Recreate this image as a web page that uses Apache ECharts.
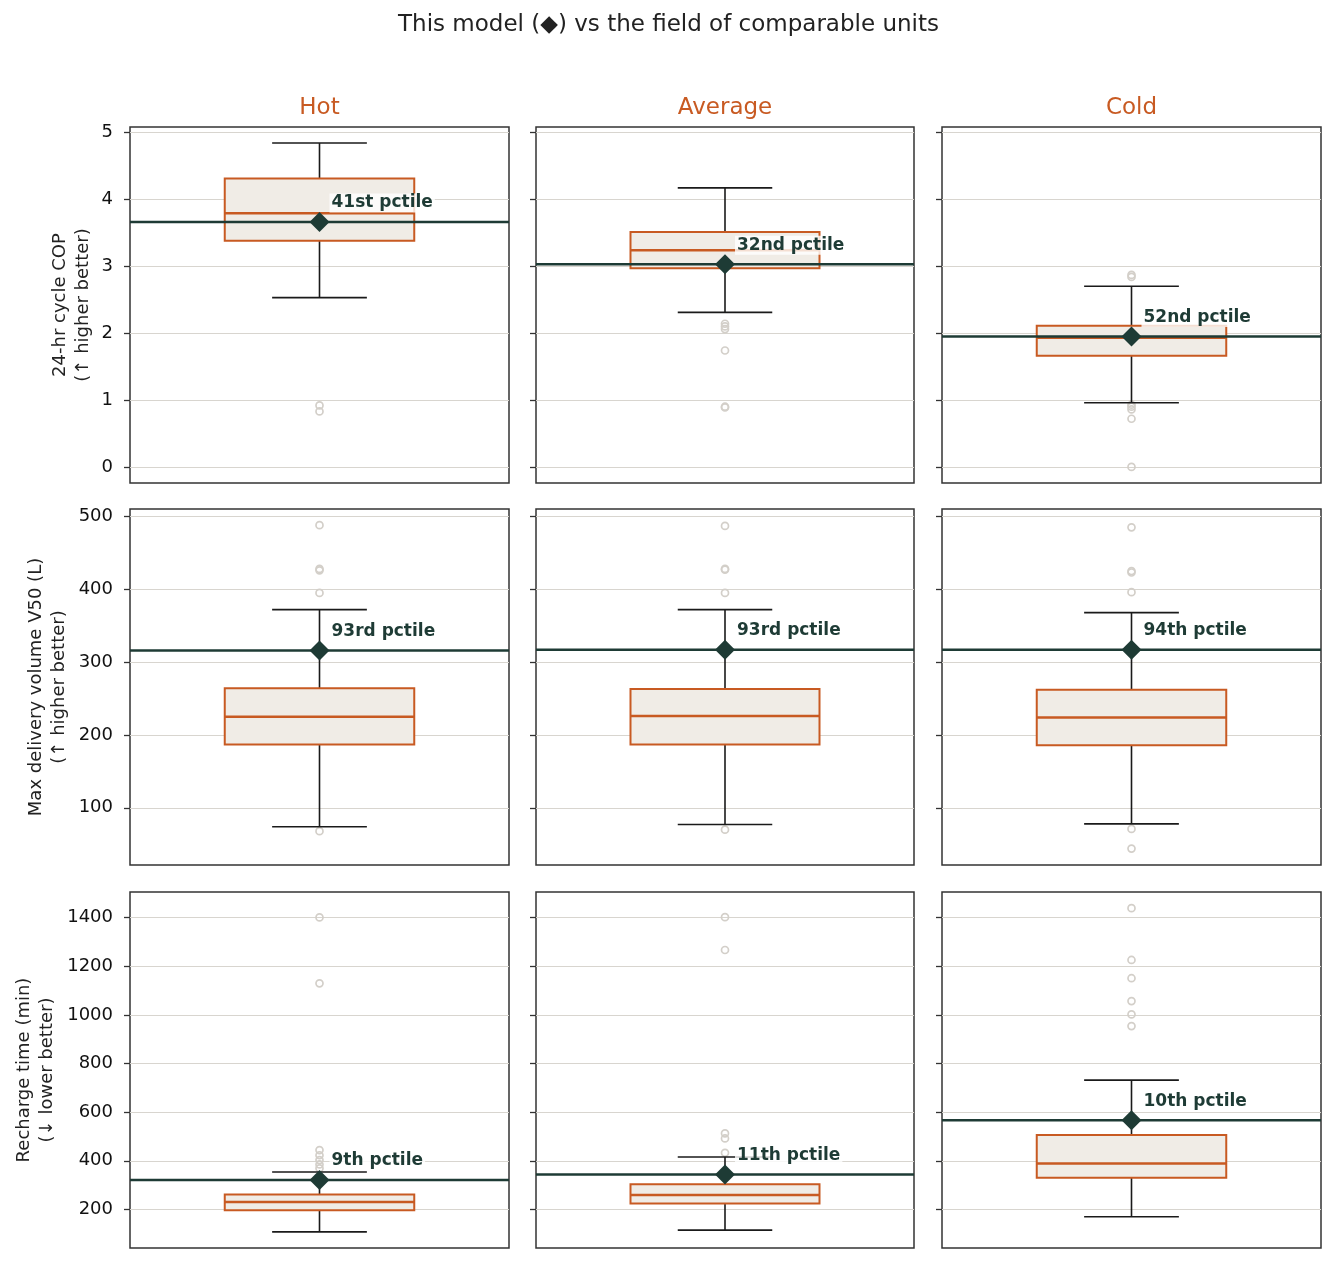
<!DOCTYPE html>
<html>
<head>
<meta charset="utf-8">
<title>This model vs the field of comparable units</title>
<script src="https://cdn.jsdelivr.net/npm/echarts@6/dist/echarts.min.js"></script>
<style>
html, body { margin: 0; padding: 0; background: #fff; }
#chart { width: 1337px; height: 1263px; }
</style>
</head>
<body>
<div id="chart"></div>
<script>
// columns = climate zones, rows = metrics
var climates = ['Hot', 'Average', 'Cold'];
var rowNames = [
	'24-hr cycle COP\n(↑ higher better)',
	'Max delivery volume V50 (L)\n(↑ higher better)',
	'Recharge time (min)\n(↓ lower better)'
];

// box stats: [lower whisker, Q1, median, Q3, upper whisker]
var copBoxes = [[2.53, 3.38, 3.79, 4.31, 4.84], [2.31, 2.97, 3.24, 3.51, 4.17], [0.96, 1.66, 1.93, 2.11, 2.70]];
var copOutliers = [[0.92, 0.83], [2.14, 2.10, 2.06, 1.74, 0.90, 0.89], [2.87, 2.84, 0.93, 0.90, 0.86, 0.72, 0]];
var copModel = [3.66, 3.03, 1.95];
var copPctile = ['41st', '32nd', '52nd'];
var copTicks = [0, 1, 2, 3, 4, 5];

var v50Boxes = [[74, 187, 225, 264, 372], [77, 187, 226, 263, 372], [78, 186, 224, 262, 368]];
var v50Outliers = [[488, 428, 426, 395, 68], [487, 428, 427, 395, 70], [485, 425, 423, 396, 71, 44]];
var v50Model = [316, 317, 317];
var v50Pctile = ['93rd', '93rd', '94th'];
var v50Ticks = [100, 200, 300, 400, 500];

var rechargeBoxes = [[108, 197, 231, 262, 354], [115, 225, 259, 304, 416], [170, 330, 389, 506, 732]];
var rechargeOutliers = [[1401, 1130, 444, 423, 403, 385, 369], [1402, 1267, 513, 492, 433], [1439, 1226, 1151, 1057, 1002, 954]];
var rechargeModel = [321, 344, 567];
var rechargePctile = ['9th', '11th', '10th'];
var rechargeTicks = [200, 400, 600, 800, 1000, 1200, 1400];

// y axis extents per row (data range + 5% padding)
var rowMin = [-0.24, 21.5, 41.5];
var rowMax = [5.08, 510.2, 1505.5];
var rowSplit = [5, 5, 7];

var boxes = [copBoxes, v50Boxes, rechargeBoxes];
var outliers = [copOutliers, v50Outliers, rechargeOutliers];
var models = [copModel, v50Model, rechargeModel];
var pctiles = [copPctile, v50Pctile, rechargePctile];
var ticks = [copTicks, v50Ticks, rechargeTicks];

var colLeft = [130, 536, 942];
var colWidth = [379, 378, 379];
var rowTop = [127, 509, 892];
var rowHeight = 356;
var nameGaps = [35, 59, 71];

var ORANGE = '#c85a22';
var DARK = '#1e3b35';
var FONT = 'DejaVu Sans';

function renderBox(params, api) {
	var lo = api.value(1), q1 = api.value(2), med = api.value(3), q3 = api.value(4), hi = api.value(5), model = api.value(6);
	var pL = api.coord([0.25, q3]);
	var pR = api.coord([0.75, q1]);
	var pM = api.coord([0.5, med]);
	var capL = api.coord([0.375, hi])[0];
	var capR = api.coord([0.625, hi])[0];
	var yHi = api.coord([0.5, hi])[1];
	var yLo = api.coord([0.5, lo])[1];
	var mL = api.coord([0, model]);
	var mR = api.coord([1, model]);
	var wh = { stroke: '#1a1a1a', lineWidth: 1.6 };
	return {
		type: 'group',
		children: [
			{ type: 'line', shape: { x1: pM[0], y1: pL[1], x2: pM[0], y2: yHi }, style: wh },
			{ type: 'line', shape: { x1: pM[0], y1: pR[1], x2: pM[0], y2: yLo }, style: wh },
			{ type: 'line', shape: { x1: capL, y1: yHi, x2: capR, y2: yHi }, style: wh },
			{ type: 'line', shape: { x1: capL, y1: yLo, x2: capR, y2: yLo }, style: wh },
			{ type: 'rect', shape: { x: pL[0], y: pL[1], width: pR[0] - pL[0], height: pR[1] - pL[1] },
				style: { fill: '#f0ece6', stroke: ORANGE, lineWidth: 2 } },
			{ type: 'line', shape: { x1: pL[0], y1: pM[1], x2: pR[0], y2: pM[1] }, style: { stroke: ORANGE, lineWidth: 2.5 } },
			{ type: 'line', shape: { x1: mL[0], y1: mL[1], x2: mR[0], y2: mR[1] }, style: { stroke: DARK, lineWidth: 2.5 } }
		]
	};
}

var grids = [], xAxes = [], yAxes = [], series = [];
var titles = [{
	text: 'This model (◆) vs the field of comparable units',
	left: 'center',
	top: 14,
	padding: 0,
	textStyle: { fontFamily: FONT, fontSize: 23, fontWeight: 'normal', color: '#222' }
}];
for (var c = 0; c < 3; c++) {
	titles.push({
		text: climates[c],
		left: colLeft[c] + colWidth[c] / 2,
		top: 97,
		padding: 0,
		textAlign: 'center',
		textStyle: { fontFamily: FONT, fontSize: 23, fontWeight: 'normal', color: ORANGE }
	});
}

for (var r = 0; r < 3; r++) {
	for (var c = 0; c < 3; c++) {
		var i = r * 3 + c;
		grids.push({
			left: colLeft[c], top: rowTop[r], width: colWidth[c], height: rowHeight,
			show: true, borderColor: '#333', borderWidth: 1.5, backgroundColor: 'transparent'
		});
		xAxes.push({
			gridIndex: i, type: 'value', min: 0, max: 1,
			axisLine: { show: false }, axisTick: { show: false }, axisLabel: { show: false }, splitLine: { show: false }
		});
		yAxes.push({
			gridIndex: i, type: 'value', min: rowMin[r], max: rowMax[r], splitNumber: rowSplit[r],
			axisLine: { show: false },
			axisTick: { show: true, length: 6, customValues: ticks[r], lineStyle: { color: '#333', width: 1.3 } },
			axisLabel: {
				show: c === 0, customValues: ticks[r],
				fontFamily: FONT, fontSize: 18, color: '#111', margin: 17,
				formatter: function (v) { return String(v); }
			},
			splitLine: { show: true, lineStyle: { color: '#d8d5cf', width: 1 } },
			name: c === 0 ? rowNames[r] : '',
			nameLocation: 'middle',
			nameGap: nameGaps[r],
			nameTextStyle: { fontFamily: FONT, fontSize: 18, color: '#222', lineHeight: 23 }
		});
		var b = boxes[r][c];
		series.push({
			type: 'custom',
			xAxisIndex: i, yAxisIndex: i,
			renderItem: renderBox,
			clip: true,
			z: 2,
			data: [[0.5, b[0], b[1], b[2], b[3], b[4], models[r][c]]]
		});
		series.push({
			type: 'scatter',
			xAxisIndex: i, yAxisIndex: i,
			symbol: 'circle', symbolSize: 7,
			z: 1,
			itemStyle: { color: 'rgba(0,0,0,0)', borderColor: '#d3cfc9', borderWidth: 1.7, opacity: 1 },
			data: outliers[r][c].map(function (v) { return [0.5, v]; })
		});
		series.push({
			type: 'scatter',
			xAxisIndex: i, yAxisIndex: i,
			symbol: 'diamond', symbolSize: 20,
			z: 5,
			itemStyle: { color: DARK, opacity: 1 },
			label: {
				show: true,
				formatter: pctiles[r][c] + ' pctile',
				position: [20, -9],
				align: 'left', verticalAlign: 'middle',
				fontFamily: FONT, fontSize: 17, fontWeight: 'bold', color: DARK,
				backgroundColor: 'rgba(255,255,255,0.8)', padding: [1, 2]
			},
			data: [[0.5, models[r][c]]]
		});
	}
}

var myChart = echarts.init(document.getElementById('chart'));
myChart.setOption({
	backgroundColor: '#fff',
	animation: false,
	title: titles,
	grid: grids,
	xAxis: xAxes,
	yAxis: yAxes,
	series: series
});
</script>
</body>
</html>
